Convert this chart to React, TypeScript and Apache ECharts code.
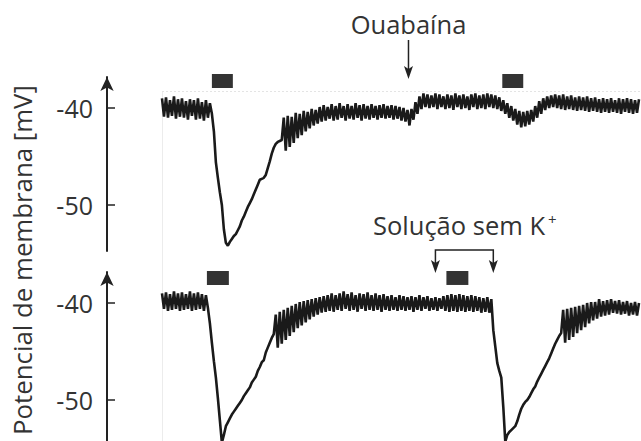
import React, { useEffect, useRef } from "react";
import * as echarts from "echarts";

// Membrane potential (mV), sampled at uniform time steps (1 sample = 1 time unit)
const topTrace: number[] = [
  -39.0, -40.9, -38.9, -41.0, -39.2, -40.8, -38.8, -41.1, -39.1, -40.9,
  -39.0, -41.0, -39.3, -41.2, -39.1, -40.8, -39.2, -41.2, -39.0, -41.1,
  -39.4, -41.3, -39.2, -41.0, -39.5, -40.6, -42.4, -45.6, -47.2, -48.7,
  -50.0, -52.5, -53.9, -54.2, -53.8, -53.5, -53.2, -53.0, -52.6, -52.2,
  -51.6, -51.2, -50.7, -50.2, -49.8, -49.4, -48.9, -48.4, -47.9, -47.4,
  -47.3, -47.2, -46.9, -46.2, -45.5, -44.7, -44.1, -43.7, -43.5, -43.4,
  -43.3, -41.0, -44.4, -40.8, -44.0, -40.9, -43.6, -40.5, -43.1, -40.6,
  -42.8, -40.3, -42.4, -40.4, -42.1, -40.1, -41.8, -40.2, -41.6, -39.9,
  -41.4, -39.7, -41.3, -39.9, -41.1, -39.6, -41.3, -39.8, -41.2, -39.5,
  -41.0, -39.8, -41.3, -39.6, -41.1, -39.8, -41.2, -39.5, -41.0, -39.7,
  -41.3, -39.6, -41.1, -39.8, -41.2, -39.6, -41.0, -39.8, -41.2, -39.7,
  -41.0, -39.6, -41.1, -39.8, -41.0, -39.7, -41.2, -39.8, -41.1, -39.9,
  -41.3, -40.0, -41.4, -40.2, -41.8, -40.1, -41.2, -39.4, -40.6, -38.8,
  -40.1, -38.5, -39.9, -38.6, -40.0, -38.7, -39.9, -38.5, -40.1, -38.6,
  -39.9, -38.8, -40.1, -38.6, -40.0, -38.7, -40.2, -38.5, -39.9, -38.7,
  -40.1, -38.6, -40.0, -38.8, -40.2, -38.6, -39.9, -38.5, -40.1, -38.7,
  -40.0, -38.6, -40.1, -38.5, -39.9, -38.6, -40.0, -38.7, -40.1, -38.9,
  -40.3, -39.2, -40.6, -39.5, -41.0, -39.8, -41.3, -40.1, -41.7, -40.3,
  -42.0, -40.4, -41.9, -40.3, -41.7, -40.2, -41.4, -39.8, -41.0, -39.3,
  -40.6, -39.0, -40.2, -38.8, -40.0, -38.7, -39.9, -38.6, -40.0, -38.7,
  -40.1, -38.6, -40.2, -38.8, -40.1, -38.7, -40.2, -38.9, -40.3, -38.8,
  -40.2, -38.9, -40.3, -38.8, -40.4, -39.0, -40.3, -38.9, -40.4, -39.1,
  -40.5, -39.0, -40.4, -39.1, -40.5, -39.0, -40.4, -39.2, -40.5, -39.0,
  -40.6, -39.1, -40.4, -39.0, -40.5, -39.1, -40.6, -39.2, -40.5, -39.1,
];

const bottomTrace: number[] = [
  -39.0, -40.6, -38.9, -40.8, -39.1, -40.7, -38.8, -40.6, -39.0, -40.8,
  -38.9, -40.7, -39.1, -40.6, -38.8, -40.8, -39.0, -40.7, -38.9, -40.6,
  -39.1, -40.8, -39.2, -40.5, -42.1, -44.1, -46.0, -47.7, -49.8, -52.1,
  -54.4, -53.6, -52.7, -52.3, -51.9, -51.5, -51.2, -50.9, -50.6, -50.3,
  -50.0, -49.6, -49.3, -49.0, -48.7, -48.2, -47.9, -47.6, -47.0, -46.6,
  -46.1, -45.9, -45.1, -44.6, -44.1, -43.6, -43.2, -41.2, -44.6, -40.9,
  -44.2, -40.7, -43.8, -40.5, -43.4, -40.3, -43.0, -40.1, -42.6, -39.9,
  -42.3, -39.8, -42.0, -39.7, -41.7, -39.6, -41.4, -39.5, -41.2, -39.4,
  -41.0, -39.3, -40.9, -39.2, -40.8, -39.0, -40.9, -39.2, -40.7, -39.0,
  -40.8, -38.8, -40.6, -39.1, -40.8, -38.9, -40.7, -39.2, -40.9, -39.0,
  -40.6, -39.1, -40.8, -38.9, -40.7, -39.2, -40.8, -39.0, -40.7, -39.2,
  -40.9, -39.1, -40.7, -39.3, -40.8, -39.2, -40.7, -39.4, -40.8, -39.2,
  -40.7, -39.3, -40.8, -39.4, -40.7, -39.3, -40.9, -39.4, -40.7, -39.2,
  -40.8, -39.4, -40.6, -39.3, -40.8, -39.5, -40.7, -39.4, -40.8, -39.5,
  -40.6, -39.3, -40.8, -39.2, -40.9, -39.1, -40.8, -39.2, -40.9, -39.1,
  -40.8, -39.2, -40.9, -39.3, -40.8, -39.2, -40.9, -39.3, -40.8, -39.4,
  -41.0, -39.5, -40.9, -39.4, -41.0, -39.6, -42.8, -44.5, -46.2, -47.0,
  -47.7, -50.7, -54.3, -53.6, -53.3, -53.1, -52.9, -52.7, -52.2, -51.5,
  -50.9, -50.5, -50.2, -50.0, -49.7, -49.3, -48.9, -48.6, -48.1, -47.7,
  -47.3, -46.9, -46.5, -46.1, -45.7, -45.2, -44.7, -44.2, -43.8, -43.4,
  -43.1, -40.7, -44.1, -40.6, -43.8, -40.5, -43.5, -40.4, -43.1, -40.3,
  -42.8, -40.2, -42.5, -40.0, -42.1, -39.9, -41.8, -39.9, -41.6, -39.6,
  -41.4, -39.8, -41.3, -39.7, -41.2, -39.6, -41.0, -39.8, -41.1, -39.7,
  -41.2, -39.9, -41.1, -39.8, -41.3, -40.0, -41.2, -39.9, -41.3, -40.0,
];

// Stimulus periods [start, end] (time units)
const topStimuli: number[][] = [[25, 35.5], [170.5, 181]];
const bottomStimuli: number[][] = [[22.5, 33.5], [142.5, 153.5]];

// Events
const ouabainTime = 123.5;
const kFreeWindow = [137, 166];

const yTicks = [-50, -40];

const FONT = '"Open Sans", "Noto Sans", sans-serif';
const INK = "#1a1a1a";
const TEXT = "#333333";

export default function App() {
  const ref = useRef<HTMLDivElement>(null);

  useEffect(() => {
    if (!ref.current) return;
    const chart = echarts.init(ref.current, undefined, { renderer: "svg" });

    const yAxisBase = (grid: number, min: number, max: number) => ({
      gridIndex: grid,
      type: "value",
      min,
      max,
      offset: 55,
      axisLine: {
        show: true,
        onZero: false,
        symbol: ["none", "arrow"],
        symbolSize: [10, 14],
        lineStyle: { color: "#222", width: 2 },
      },
      axisTick: {
        show: true,
        inside: true,
        length: 8,
        customValues: yTicks,
        lineStyle: { color: "#222", width: 1.5 },
      },
      axisLabel: {
        customValues: yTicks,
        margin: 14,
        fontSize: 25,
        color: TEXT,
        fontFamily: FONT,
      },
      splitLine: { show: false },
    });

    const stimRender = (hi: number, lo: number) => (params: any, api: any) => {
      const a = api.coord([api.value(0), hi]);
      const b = api.coord([api.value(1), lo]);
      return {
        type: "rect",
        shape: { x: a[0], y: a[1], width: b[0] - a[0], height: b[1] - a[1] },
        style: { fill: "#333333" },
      };
    };

    chart.setOption({
      animation: false,
      backgroundColor: "#ffffff",
      grid: [
        { left: 162, width: 479, top: 77, height: 174 },
        { left: 162, width: 479, top: 272, height: 169 },
      ],
      xAxis: [
        { gridIndex: 0, type: "value", min: 0, max: 240, show: false },
        { gridIndex: 1, type: "value", min: 0, max: 240, show: false },
      ],
      yAxis: [yAxisBase(0, -54.742, -36.804), yAxisBase(1, -54.227, -36.804)],
      series: [
        {
          type: "line",
          xAxisIndex: 0,
          yAxisIndex: 0,
          data: topTrace.map((v, i) => [i, v]),
          showSymbol: false,
          symbol: "none",
          lineStyle: { color: INK, width: 2.6 },
          z: 2,
        },
        {
          type: "line",
          xAxisIndex: 1,
          yAxisIndex: 1,
          data: bottomTrace.map((v, i) => [i, v]),
          showSymbol: false,
          symbol: "none",
          lineStyle: { color: INK, width: 2.6 },
          z: 2,
        },
        {
          type: "custom",
          xAxisIndex: 0,
          yAxisIndex: 0,
          data: topStimuli,
          encode: { x: [0, 1] },
          renderItem: stimRender(-36.495, -37.94),
          clip: false,
          silent: true,
          z: 3,
        },
        {
          type: "custom",
          xAxisIndex: 1,
          yAxisIndex: 1,
          data: bottomStimuli,
          encode: { x: [0, 1] },
          renderItem: stimRender(-36.7, -38.14),
          clip: false,
          silent: true,
          z: 3,
        },
      ],
    });

    const ox = chart.convertToPixel({ xAxisIndex: 0 }, ouabainTime) as number;
    const k0 = chart.convertToPixel({ xAxisIndex: 1 }, kFreeWindow[0]) as number;
    const k1 = chart.convertToPixel({ xAxisIndex: 1 }, kFreeWindow[1]) as number;
    const arrowStyle = { stroke: "#222", lineWidth: 1.5 };
    const head = (x: number, tip: number) => ({
      type: "polygon",
      shape: { points: [[x, tip], [x - 4.5, tip - 13], [x, tip - 10], [x + 4.5, tip - 13]] },
      style: { fill: "#222" },
    });

    chart.setOption({
      graphic: [
        {
          type: "line",
          shape: { x1: 162.5, y1: 91, x2: 162.5, y2: 441 },
          style: { stroke: "#ececec", lineWidth: 1 },
          silent: true,
        },
        {
          type: "line",
          shape: { x1: 162, y1: 91.5, x2: 641, y2: 91.5 },
          style: { stroke: "#e4e4e4", lineWidth: 1, lineDash: [2, 2] },
          silent: true,
        },
        {
          type: "text",
          x: 22,
          y: 260,
          rotation: Math.PI / 2,
          style: {
            text: "Potencial de membrana [mV]",
            font: `25.8px ${FONT}`,
            fill: TEXT,
            align: "center",
            verticalAlign: "middle",
          },
        },
        {
          type: "text",
          x: ox,
          y: 24,
          style: {
            text: "Ouabaína",
            font: `25.5px ${FONT}`,
            fill: TEXT,
            align: "center",
            verticalAlign: "middle",
          },
        },
        { type: "line", shape: { x1: ox, y1: 40, x2: ox, y2: 72 }, style: arrowStyle },
        head(ox, 79),
        {
          type: "text",
          x: 373,
          y: 225,
          style: {
            text: "Solução sem K",
            font: `25.5px ${FONT}`,
            fill: TEXT,
            align: "left",
            verticalAlign: "middle",
          },
        },
        {
          type: "text",
          x: 548,
          y: 219,
          style: {
            text: "+",
            font: `15px ${FONT}`,
            fill: TEXT,
            align: "left",
            verticalAlign: "middle",
          },
        },
        {
          type: "polyline",
          shape: { points: [[k0, 266], [k0, 250], [k1, 250], [k1, 266]] },
          style: arrowStyle,
        },
        head(k0, 273),
        head(k1, 273),
      ],
    });

    return () => chart.dispose();
  }, []);

  return (
    <div
      ref={ref}
      style={{ position: "absolute", left: 0, top: 0, width: 641, height: 441, background: "#fff" }}
    />
  );
}
